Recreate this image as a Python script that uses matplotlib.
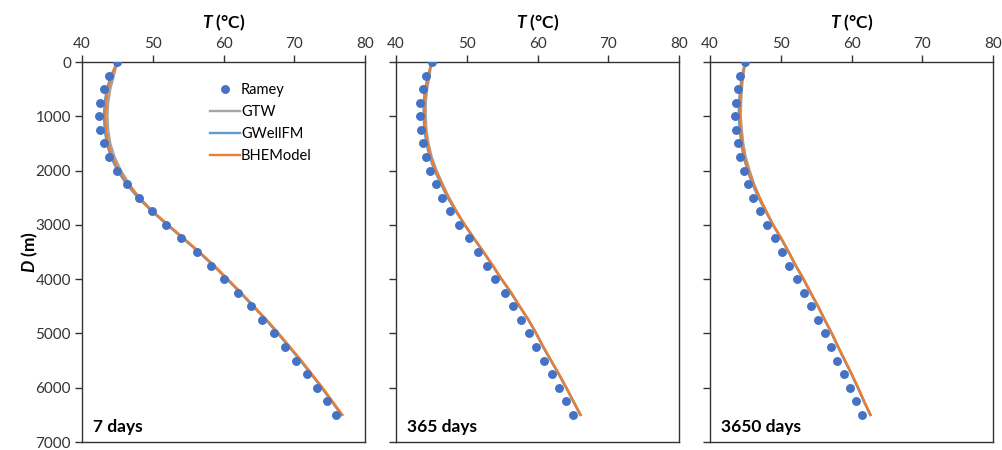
import matplotlib
matplotlib.use("Agg")
import matplotlib.pyplot as plt

plt.rcParams['font.family'] = ['Lato', 'DejaVu Sans']
plt.rcParams['mathtext.fontset'] = 'custom'
plt.rcParams['mathtext.rm'] = 'Lato:bold'
plt.rcParams['mathtext.it'] = 'Lato:bold:italic'
plt.rcParams['mathtext.bf'] = 'Lato:bold'

depth = [0, 250, 500, 750, 1000, 1250, 1500, 1750, 2000, 2250, 2500, 2750, 3000,
         3250, 3500, 3750, 4000, 4250, 4500, 4750, 5000, 5250, 5500, 5750, 6000,
         6250, 6500]

# 7 days
ramey_7 = [45.0, 43.8, 43.1, 42.5, 42.35, 42.5, 43.1, 43.8, 44.9, 46.35, 48.0, 49.9, 51.9,
           54.0, 56.2, 58.2, 60.1, 62.0, 63.9, 65.5, 67.15, 68.7, 70.25, 71.75, 73.2, 74.6, 75.9]
bhe_7 = [45.0, 44.2, 43.7, 43.4, 43.3, 43.4, 43.7, 44.3, 45.2, 46.5, 48.1, 50.0, 52.2,
         54.4, 56.6, 58.7, 60.6, 62.5, 64.3, 66.1, 67.8, 69.4, 71.0, 72.5, 74.0, 75.4, 76.8]
gtw_7 = [45.0, 44.5, 44.0, 43.7, 43.6, 43.7, 44.0, 44.6, 45.5, 46.7, 48.1, 49.9, 52.0,
         54.3, 56.5, 58.6, 60.5, 62.4, 64.2, 66.0, 67.7, 69.3, 70.9, 72.4, 73.9, 75.3, 76.7]
gwell_7 = [45.0, 44.1, 43.5, 43.2, 43.1, 43.2, 43.5, 44.1, 45.0, 46.3, 47.9, 49.9, 52.1,
           54.3, 56.5, 58.6, 60.5, 62.4, 64.2, 66.0, 67.7, 69.3, 70.9, 72.4, 73.9, 75.3, 76.7]

# 365 days
ramey_365 = [45.1, 44.3, 43.75, 43.45, 43.4, 43.5, 43.75, 44.2, 44.85, 45.65, 46.55, 47.7, 48.95,
             50.25, 51.6, 52.85, 54.05, 55.35, 56.5, 57.7, 58.8, 59.8, 60.9, 62.0, 63.05, 64.05, 65.0]
bhe_365 = [45.0, 44.65, 44.25, 44.05, 44.05, 44.15, 44.45, 44.9, 45.6, 46.5, 47.45, 48.55, 49.75,
           51.05, 52.4, 53.7, 54.95, 56.3, 57.5, 58.75, 59.85, 60.85, 61.95, 63.05, 64.1, 65.1, 66.1]
gtw_365 = [45.0, 44.75, 44.4, 44.2, 44.2, 44.3, 44.6, 45.05, 45.75, 46.6, 47.5, 48.55, 49.7,
           51.0, 52.35, 53.65, 54.9, 56.25, 57.45, 58.7, 59.8, 60.8, 61.9, 63.0, 64.05, 65.05, 66.05]
gwell_365 = [45.0, 44.55, 44.1, 43.9, 43.9, 44.0, 44.3, 44.75, 45.45, 46.35, 47.3, 48.45, 49.7,
             51.0, 52.35, 53.65, 54.9, 56.25, 57.45, 58.7, 59.8, 60.8, 61.9, 63.0, 64.05, 65.05, 66.05]

# 3650 days
ramey_3650 = [45.0, 44.25, 43.9, 43.65, 43.55, 43.7, 43.9, 44.25, 44.75, 45.35, 46.1, 47.0, 48.0,
              49.15, 50.2, 51.2, 52.3, 53.25, 54.3, 55.2, 56.2, 57.1, 58.0, 58.95, 59.85, 60.7, 61.55]
bhe_3650 = [45.0, 44.6, 44.4, 44.25, 44.2, 44.35, 44.55, 44.9, 45.45, 46.15, 47.0, 47.95, 48.95,
            50.1, 51.15, 52.15, 53.25, 54.25, 55.3, 56.25, 57.25, 58.15, 59.1, 60.05, 60.95, 61.8, 62.7]
gtw_3650 = [45.0, 44.7, 44.5, 44.4, 44.35, 44.5, 44.7, 45.05, 45.6, 46.25, 47.05, 47.95, 48.9,
            50.05, 51.1, 52.1, 53.2, 54.2, 55.25, 56.2, 57.2, 58.1, 59.05, 60.0, 60.9, 61.75, 62.65]
gwell_3650 = [45.0, 44.5, 44.25, 44.1, 44.05, 44.2, 44.4, 44.75, 45.3, 46.0, 46.85, 47.85, 48.9,
              50.05, 51.1, 52.1, 53.2, 54.2, 55.25, 56.2, 57.2, 58.1, 59.05, 60.0, 60.9, 61.75, 62.65]

panel_labels = ["7 days", "365 days", "3650 days"]
panels = [
    (ramey_7, gtw_7, gwell_7, bhe_7),
    (ramey_365, gtw_365, gwell_365, bhe_365),
    (ramey_3650, gtw_3650, gwell_3650, bhe_3650),
]
series_names = ["Ramey", "GTW", "GWellFM", "BHEModel"]

x_ticks = [40, 50, 60, 70, 80]
y_ticks = [0, 1000, 2000, 3000, 4000, 5000, 6000, 7000]

W, H = 1003, 450
fig = plt.figure(figsize=(W / 100, H / 100), dpi=100)
lefts = [82, 396, 710]
for i, (ramey, gtw, gwell, bhe) in enumerate(panels):
    ax = fig.add_axes([lefts[i] / W, (H - 442) / H, 283 / W, 380 / H])
    ax.plot(ramey, depth, 'o', color='#4472C4', markersize=5.4, label=series_names[0], zorder=3)
    ax.plot(gtw, depth, color='#A5A5A5', lw=1.7, label=series_names[1], zorder=2)
    ax.plot(gwell, depth, color='#5B9BD5', lw=1.7, label=series_names[2], zorder=2)
    ax.plot(bhe, depth, color='#ED7D31', lw=1.7, label=series_names[3], zorder=2)
    ax.set_xlim(40, 80)
    ax.set_ylim(7000, 0)
    ax.set_xticks(x_ticks)
    ax.set_yticks(y_ticks)
    ax.xaxis.tick_top()
    ax.xaxis.set_label_position('top')
    ax.tick_params(axis='both', direction='out', length=5, width=1, colors='#333333',
                   labelsize=11, labelcolor='#333333', pad=3)
    ax.tick_params(axis='x', top=True, bottom=False)
    for s in ax.spines.values():
        s.set_color('#333333')
        s.set_linewidth(1.0)
    ax.set_xlabel('$T$ (°C)', fontsize=12.5, fontweight='bold', labelpad=6)
    if i == 0:
        ax.set_ylabel('$D$ (m)', fontsize=12.5, fontweight='bold', labelpad=-3)
        ax.legend(loc='upper left', bbox_to_anchor=(0.43, 0.96), frameon=False,
                  fontsize=10.5, handlelength=2.1, handletextpad=0.05, labelspacing=0.55,
                  borderaxespad=0)
    else:
        ax.set_yticklabels([])
    ax.text(0.04, 0.027, panel_labels[i], transform=ax.transAxes, fontsize=12.5,
            fontweight='bold', ha='left', va='baseline')

fig.savefig('out.png', dpi=100)
